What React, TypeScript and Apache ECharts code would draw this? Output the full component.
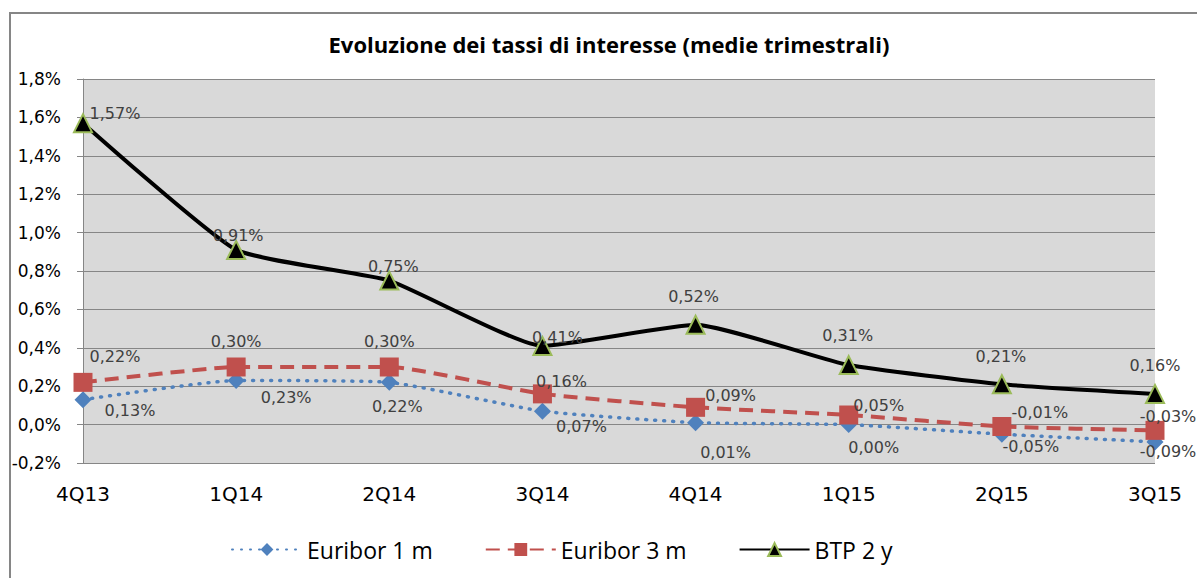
import React, { useEffect, useRef } from "react";
import * as echarts from "echarts";

const categories = ["4Q13", "1Q14", "2Q14", "3Q14", "4Q14", "1Q15", "2Q15", "3Q15"];
const euribor1m = [0.13, 0.23, 0.22, 0.07, 0.01, 0.0, -0.05, -0.09];
const euribor3m = [0.22, 0.30, 0.30, 0.16, 0.09, 0.05, -0.01, -0.03];
const btp2y = [1.57, 0.91, 0.75, 0.41, 0.52, 0.31, 0.21, 0.16];
const yTicks = { min: -0.2, max: 1.8, interval: 0.2 };

// label offsets (style only)
const off1m = [[47, 11], [50, 17], [8, 24], [39, 15], [30, 30], [25, 23], [29, 12], [13, 10]];
const off3m = [[32, -26], [0, -26], [0, -26], [19, -12], [35, -12], [30, -10], [38, -14], [13, -14]];
const offBtp = [[32, -10], [2, -14], [4, -14], [15, -8], [-2, -28], [-1, -30], [-1, -28], [0, -28]];

const fmtPct = (v: number) => v.toFixed(2).replace(".", ",") + "%";
const LABEL_FONT = "'DejaVu Sans', 'Liberation Sans', Arial, sans-serif";
const TITLE_FONT = "'Open Sans', Lato, sans-serif";

function withLabels(values: number[], offsets: number[][]) {
  return values.map((v, i) => ({
    value: v,
    label: { offset: offsets[i] },
  }));
}

export default function App() {
  const ref = useRef<HTMLDivElement>(null);
  useEffect(() => {
    if (!ref.current) return;
    const chart = echarts.init(ref.current, null, { renderer: "svg" });
    const labelBase = {
      show: true,
      position: "inside",
      align: "center",
      verticalAlign: "middle",
      color: "#404040",
      fontSize: 16,
      fontFamily: LABEL_FONT,
      formatter: (p: any) => fmtPct(p.value),
    };
    chart.setOption({
      animation: false,
      backgroundColor: "#ffffff",
      title: {
        text: "Evoluzione dei tassi di interesse (medie trimestrali)",
        left: 604,
        top: 28,
        textAlign: "center",
        textStyle: {
          fontFamily: TITLE_FONT,
          fontWeight: "bold",
          fontSize: 22,
          color: "#000000",
        },
      },
      graphic: [
        {
          type: "rect",
          shape: { x: 10, y: 13, width: 1220, height: 600 },
          style: { fill: "none", stroke: "#868686", lineWidth: 2 },
          silent: true,
          z: -1,
        },
      ],
      legend: {
        left: 226,
        top: 533,
        itemWidth: 70,
        itemHeight: 16,
        itemGap: 52,
        textStyle: {
          fontFamily: TITLE_FONT,
          fontSize: 23,
          color: "#000000",
        },
        data: ["Euribor 1 m", "Euribor 3 m", "BTP 2 y"],
      },
      grid: {
        left: 83,
        right: 42,
        top: 79,
        bottom: 115,
        show: true,
        backgroundColor: "#D9D9D9",
        borderWidth: 0,
      },
      xAxis: {
        type: "category",
        data: categories,
        boundaryGap: false,
        axisLine: { show: true, lineStyle: { color: "#868686", width: 1 } },
        axisTick: { show: false },
        axisLabel: {
          margin: 21,
          fontSize: 20,
          fontFamily: LABEL_FONT,
          color: "#000000",
        },
      },
      yAxis: {
        type: "value",
        min: yTicks.min,
        max: yTicks.max,
        interval: yTicks.interval,
        axisLine: { show: true, lineStyle: { color: "#868686", width: 1 } },
        axisTick: { show: true, length: 6, lineStyle: { color: "#868686" } },
        splitLine: { show: true, lineStyle: { color: "#868686", width: 1 } },
        axisLabel: {
          margin: 22,
          fontSize: 17,
          fontFamily: LABEL_FONT,
          color: "#000000",
          formatter: (v: number) => v.toFixed(1).replace(".", ",") + "%",
        },
      },
      series: [
        {
          name: "Euribor 1 m",
          type: "line",
          data: withLabels(euribor1m, off1m),
          smooth: 0.15,
          symbol: "diamond",
          symbolSize: 17,
          itemStyle: { color: "#4F81BD" },
          lineStyle: { color: "#4F81BD", width: 3.5, type: [1, 8], cap: "round" },
          label: labelBase,
          z: 2,
        },
        {
          name: "Euribor 3 m",
          type: "line",
          data: withLabels(euribor3m, off3m),
          smooth: 0.15,
          symbol: "rect",
          symbolSize: 19,
          itemStyle: { color: "#C0504D" },
          lineStyle: { color: "#C0504D", width: 4, type: [14, 8] },
          label: labelBase,
          z: 3,
        },
        {
          name: "BTP 2 y",
          type: "line",
          data: withLabels(btp2y, offBtp),
          smooth: 0.15,
          symbol: "triangle",
          symbolSize: 18,
          itemStyle: { color: "#000000", borderColor: "#9BBB59", borderWidth: 2 },
          lineStyle: { color: "#000000", width: 4 },
          label: labelBase,
          z: 4,
        },
      ],
    });
    return () => chart.dispose();
  }, []);
  return (
    <div
      ref={ref}
      style={{ position: "absolute", left: 0, top: 0, width: 1197, height: 578 }}
    />
  );
}
